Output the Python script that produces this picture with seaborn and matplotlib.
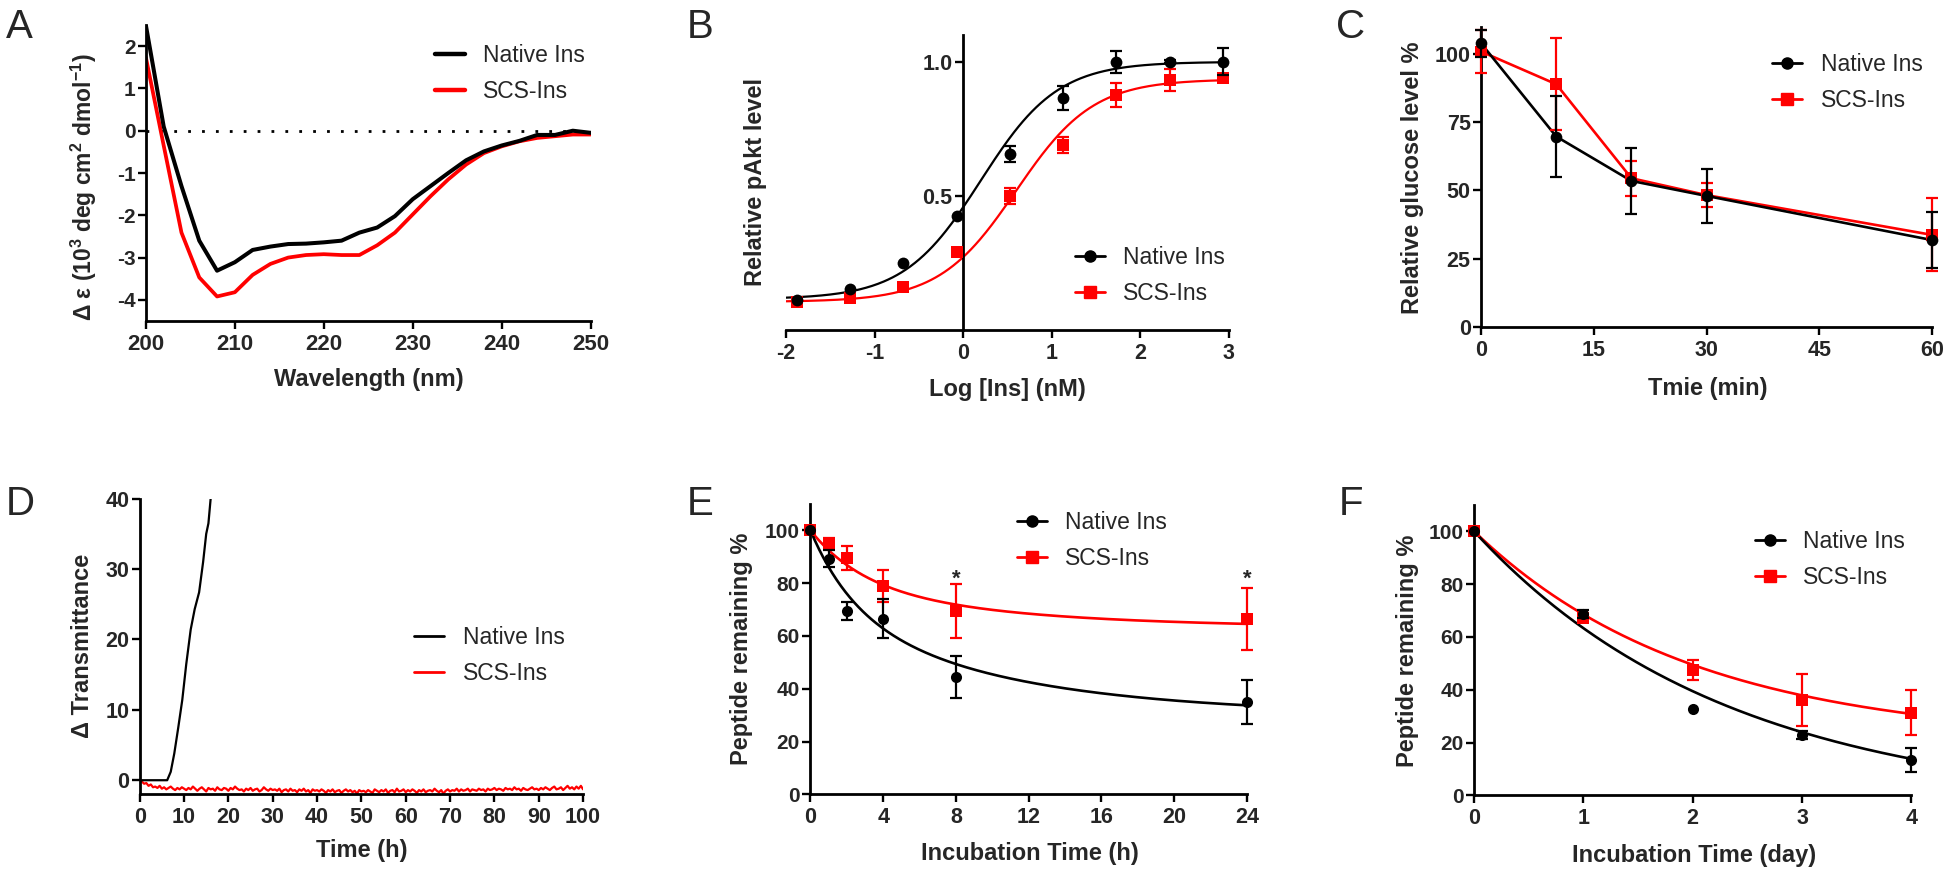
import matplotlib
matplotlib.use("Agg")
import numpy as np
import pandas as pd
import matplotlib.pyplot as plt
import seaborn as sns
from matplotlib.lines import Line2D

# ===================== DATA =====================
# Panel A: CD spectra
cd_wavelength = list(range(200, 251, 2))
cd_native = [2.49, 0.10, -1.31, -2.60, -3.31, -3.11, -2.82, -2.74, -2.68, -2.67, -2.64, -2.60, -2.41,
             -2.29, -2.02, -1.62, -1.31, -1.00, -0.70, -0.49, -0.35, -0.24, -0.10, -0.10, 0.00, -0.05]
cd_scs = [1.73, -0.35, -2.41, -3.47, -3.92, -3.82, -3.41, -3.15, -3.00, -2.94, -2.92, -2.94, -2.94,
          -2.71, -2.41, -1.98, -1.55, -1.15, -0.80, -0.53, -0.37, -0.25, -0.17, -0.13, -0.09, -0.09]

# Panel B: pAkt dose response
akt_logconc = [-1.88, -1.28, -0.68, -0.07, 0.53, 1.13, 1.73, 2.33, 2.93]
akt_native = [0.112, 0.153, 0.25, 0.425, 0.656, 0.866, 1.0, 1.0, 1.0]
akt_native_err = [0.0, 0.0, 0.0, 0.0, 0.03, 0.045, 0.04, 0.006, 0.05]
akt_scs = [0.104, 0.12, 0.16, 0.29, 0.50, 0.69, 0.877, 0.933, 0.94]
akt_scs_err = [0.0, 0.0, 0.0, 0.015, 0.03, 0.03, 0.045, 0.04, 0.012]
akt_fit_native = [0.115, 1.0, 0.2, 1.0]   # bottom, top, logEC50, hill
akt_fit_scs = [0.105, 0.935, 0.6, 1.0]

# Panel C: blood glucose
glu_time = [0, 10, 20, 30, 60]
glu_native = [104.0, 69.8, 53.5, 48.0, 31.8]
glu_native_err = [5.0, 14.7, 12.2, 9.8, 10.3]
glu_scs = [101.0, 89.0, 54.5, 48.3, 33.7]
glu_scs_err = [7.8, 16.8, 6.4, 4.5, 13.4]

# Panel D: transmittance
tr_native_time = [0, 3, 6.2, 7, 7.8, 8.7, 9.6, 10.5, 11.5, 12.4, 13.4, 14.3, 15, 15.5, 16]
tr_native = [0, 0, 0, 1.2, 3.8, 7.5, 11.4, 16.5, 21.4, 24.3, 26.7, 31, 35, 36.5, 40]
tr_scs = [0.0, -0.2, -0.5, -0.4, -0.8, -0.6, -1.0, -0.9, -1.1, -0.8, -1.2, -1.0, -1.3, -1.1, -0.9, -1.2, -1.4, -1.1, -1.3, -1.0, -1.2,
          -1.4, -1.1, -1.3, -0.9, -1.2, -1.5, -1.2, -1.0, -1.3, -1.6, -1.1, -1.3, -1.2, -1.5, -1.0, -1.3, -1.4, -1.1, -1.2, -1.5,
          -1.1, -1.3, -0.9, -1.2, -1.4, -1.3, -1.6, -1.2, -1.4, -1.1, -1.5, -1.3, -1.2, -1.6, -1.4, -1.0, -1.3, -1.5, -1.2, -1.4,
          -1.3, -1.5, -1.2, -1.7, -1.4, -1.3, -1.6, -1.2, -1.5, -1.4, -1.7, -1.3, -1.5, -1.2, -1.6, -1.4, -1.8, -1.3, -1.5, -1.4,
          -1.6, -1.3, -1.5, -1.8, -1.4, -1.6, -1.3, -1.7, -1.5, -1.4, -1.8, -1.5, -1.3, -1.6, -1.4, -1.7, -1.5, -1.9, -1.4, -1.6,
          -1.5, -1.7, -1.4, -1.6, -1.8, -1.3, -1.5, -1.7, -1.4, -1.6, -1.3, -1.8, -1.5, -1.4, -1.7, -1.2, -1.6, -1.5, -1.3, -1.7,
          -1.4, -1.6, -1.3, -1.5, -1.8, -1.4, -1.6, -1.3, -1.7, -1.5, -1.4, -1.6, -1.2, -1.5, -1.7, -1.4, -1.9, -1.5, -1.3, -1.6,
          -1.4, -1.5, -1.2, -1.6, -1.3, -1.5, -1.4, -1.2, -1.6, -1.3, -1.4, -1.5, -1.2, -1.4, -1.3, -1.6, -1.2, -1.4, -1.3, -1.1,
          -1.4, -1.2, -1.3, -1.5, -1.1, -1.3, -1.2, -1.4, -1.0, -1.3, -1.2, -1.5, -1.1, -1.3, -1.4, -1.2, -1.0, -1.3, -1.2, -1.4,
          -1.1, -1.3, -1.0, -1.2, -1.4, -1.1, -0.9, -1.3, -1.2, -1.0, -1.4, -1.1, -0.8, -1.2, -1.0, -1.3, -0.9, -1.2, -0.8, -1.3]

# Panel E: peptide remaining (h)
pe_time = [0, 1, 2, 4, 8, 24]
pe_native = [100, 89.3, 69.4, 66.5, 44.4, 35.0]
pe_native_err = [0.0, 3.2, 3.5, 7.3, 7.8, 8.3]
pe_scs = [100, 95.2, 89.5, 78.9, 69.4, 66.5]
pe_scs_err = [0.0, 2.0, 4.7, 5.9, 10.1, 11.7]
pe_fit_native = [30.0, 29.2, 0.42, 40.8, 0.10]   # plateau, A1, k1, A2, k2
pe_fit_scs = [63.0, 20.0, 0.35, 17.0, 0.10]
pe_star_time = [8, 24]

# Panel F: peptide remaining (day)
pf_time = [0, 1, 2, 3, 4]
pf_native = [100, 68.8, 32.8, 23.0, 13.5]
pf_native_err = [0.0, 1.5, 0.0, 1.5, 4.5]
pf_scs = [100, 67.2, 47.6, 36.0, 31.3]
pf_scs_err = [0.0, 1.0, 3.8, 9.8, 8.6]
pf_fit_native = [-5.0, 0.43]   # plateau, k
pf_fit_scs = [20.0, 0.5]

series_names = ["Native Ins", "SCS-Ins"]
series_colors = ["#000000", "#ff0000"]

# ===================== STYLE =====================
sns.set_theme(style="ticks")
plt.rcParams["font.family"] = ["Liberation Sans", "DejaVu Sans"]
plt.rcParams["font.weight"] = "bold"
plt.rcParams["axes.labelweight"] = "bold"
plt.rcParams["axes.unicode_minus"] = False
plt.rcParams["mathtext.fontset"] = "custom"
plt.rcParams["mathtext.rm"] = "Liberation Sans:bold"
plt.rcParams["mathtext.bf"] = "Liberation Sans:bold"
plt.rcParams["mathtext.it"] = "Liberation Sans:bold"

W, H = 1950, 874
fig = plt.figure(figsize=(W / 100, H / 100), dpi=100)
fig.patch.set_facecolor("white")


def add_axes(left, right, top, bottom):
    return fig.add_axes([left / W, 1 - bottom / H, (right - left) / W, (bottom - top) / H])


def style(ax, xsize=15.5, ysize=15.5):
    for s in ["top", "right"]:
        ax.spines[s].set_visible(False)
    for s in ["left", "bottom"]:
        ax.spines[s].set_linewidth(2.0)
        ax.spines[s].set_color("black")
    ax.tick_params(axis="both", direction="out", length=5.5, width=1.7, color="black")
    ax.tick_params(axis="x", labelsize=xsize, pad=4)
    ax.tick_params(axis="y", labelsize=ysize, pad=2)
    ax.set_facecolor("white")


def set_labels(ax, xl, yl, xc, yc, size=17):
    ax.set_xlabel(xl, fontsize=size)
    ax.set_ylabel(yl, fontsize=size)
    ax.xaxis.label.set_va("center")
    ax.yaxis.label.set_va("center")
    ax.xaxis.set_label_coords(*xc)
    ax.yaxis.set_label_coords(*yc)


def legend(ax, handles, x, y0, y1, fs=16.5):
    lg = ax.legend(handles=handles, labels=series_names, loc="center left",
                   bbox_to_anchor=(x / W, 1 - (y0 + y1) / 2 / H), bbox_transform=fig.transFigure,
                   frameon=False, borderpad=0, borderaxespad=0, handlelength=1.3,
                   handletextpad=0.8, labelspacing=0.55,
                   prop={"size": fs, "weight": "normal", "family": "Liberation Sans"})
    return lg


def letter(txt, x, y):
    fig.text(x / W, 1 - y / H, txt, fontsize=29, fontweight="normal", ha="left", va="baseline")


def errpoints(ax, x, y, e, color, marker, ms=8, zorder=3):
    xs = [xi for xi, ei in zip(x, e) if ei > 0]
    ys = [yi for yi, ei in zip(y, e) if ei > 0]
    es = [ei for ei in e if ei > 0]
    ax.errorbar(xs, ys, yerr=es, fmt="none", ecolor=color, elinewidth=1.6, capsize=4.2,
                capthick=1.6, zorder=zorder, clip_on=False)
    sns.scatterplot(x=x, y=y, ax=ax, color=color, marker=marker, s=ms ** 2,
                    edgecolor=color, linewidth=0, zorder=zorder + 0.5, clip_on=False, legend=False)


# ===================== PANEL A =====================
axA = add_axes(145.9, 590.6, 25, 321)
dfA = pd.DataFrame({"wl": cd_wavelength * 2, "de": cd_native + cd_scs,
                    "s": [series_names[0]] * len(cd_native) + [series_names[1]] * len(cd_scs)})
sns.lineplot(data=dfA[dfA.s == series_names[1]], x="wl", y="de", ax=axA, color=series_colors[1], lw=2.7, legend=False)
sns.lineplot(data=dfA[dfA.s == series_names[0]], x="wl", y="de", ax=axA, color=series_colors[0], lw=2.9, legend=False)
axA.axhline(0, color="black", lw=2, ls=(0, (1, 4)), zorder=1)
axA.set_xlim(200, 250)
axA.set_ylim(-4.5, 2.5)
axA.set_xticks([200, 210, 220, 230, 240, 250])
axA.set_yticks([-4, -3, -2, -1, 0, 1, 2])
style(axA, xsize=16, ysize=15)
set_labels(axA, "Wavelength (nm)", "Δ ε (10$^{3}$ deg cm$^{2}$ dmol$^{-1}$)", (0.501, -0.197), (-0.14, 0.451))
axA.yaxis.label.set_fontsize(16.5)
legend(axA, [Line2D([0], [0], color=c, lw=3.2) for c in series_colors], 435, 53.3, 94.3)
letter("A", 6, 38)

# ===================== PANEL B =====================
axB = add_axes(785.9, 1228.9, 35, 330)
xfit = np.linspace(-2, 3, 300)
for p, c in [(akt_fit_scs, series_colors[1]), (akt_fit_native, series_colors[0])]:
    yfit = p[0] + (p[1] - p[0]) / (1 + 10 ** ((p[2] - xfit) * p[3]))
    sns.lineplot(x=xfit, y=yfit, ax=axB, color=c, lw=1.6, legend=False)
errpoints(axB, akt_logconc, akt_scs, akt_scs_err, series_colors[1], "s", ms=8)
errpoints(axB, akt_logconc, akt_native, akt_native_err, series_colors[0], "o", ms=8.5, zorder=4)
axB.set_xlim(-2, 3)
axB.set_ylim(0, 1.1)
axB.set_xticks([-2, -1, 0, 1, 2, 3])
axB.set_yticks([0.5, 1.0])
axB.set_yticklabels(["0.5", "1.0"])
style(axB)
axB.spines["left"].set_position(("data", 0))
set_labels(axB, "Log [Ins] (nM)", "Relative pAkt level", (0.4996, -0.203), (-0.068, 0.502))
legend(axB, [Line2D([0], [0], color=c, lw=2, marker=m, markersize=8) for c, m in zip(series_colors, ["o", "s"])],
       1074.8, 256, 295)
letter("B", 686.5, 38)

# ===================== PANEL C =====================
axC = add_axes(1481.1, 1932.0, 27, 326.7)
sns.lineplot(x=glu_time, y=glu_scs, ax=axC, color=series_colors[1], lw=1.9, legend=False)
sns.lineplot(x=glu_time, y=glu_native, ax=axC, color=series_colors[0], lw=1.9, legend=False)
errpoints(axC, glu_time, glu_scs, glu_scs_err, series_colors[1], "s", ms=8.4)
errpoints(axC, glu_time, glu_native, glu_native_err, series_colors[0], "o", ms=8.4, zorder=4)
axC.set_xlim(0, 60)
axC.set_ylim(0, 110)
axC.set_xticks([0, 15, 30, 45, 60])
axC.set_yticks([0, 25, 50, 75, 100])
style(axC)
set_labels(axC, "Tmie (min)", "Relative glucose level %", (0.502, -0.2055), (-0.152, 0.498))
legend(axC, [Line2D([0], [0], color=c, lw=2, marker=m, markersize=8) for c, m in zip(series_colors, ["o", "s"])],
       1772.4, 62.3, 102.3)
letter("C", 1336.5, 38)

# ===================== PANEL D =====================
axD = add_axes(139.7, 583.1, 498.7, 794.3)
tr_time = np.arange(0, 100.01, 0.5)
sns.lineplot(x=tr_time, y=tr_scs, ax=axD, color=series_colors[1], lw=1.6, legend=False)
sns.lineplot(x=tr_native_time, y=tr_native, ax=axD, color=series_colors[0], lw=1.6, legend=False)
axD.set_xlim(0, 100)
axD.set_ylim(-2, 40)
axD.set_xticks(list(range(0, 101, 10)))
axD.set_yticks([0, 10, 20, 30, 40])
style(axD)
set_labels(axD, "Time (h)", "Δ Transmittance", (0.5, -0.189), (-0.128, 0.501))
legend(axD, [Line2D([0], [0], color=c, lw=2) for c in series_colors], 414.4, 636, 675.3)
letter("D", 6, 515)

# ===================== PANEL E =====================
axE = add_axes(810.4, 1246.8, 503.9, 794.3)
tE = np.linspace(0, 24, 300)
for p, c in [(pe_fit_scs, series_colors[1]), (pe_fit_native, series_colors[0])]:
    yE = p[0] + p[1] * np.exp(-p[2] * tE) + p[3] * np.exp(-p[4] * tE)
    sns.lineplot(x=tE, y=yE, ax=axE, color=c, lw=1.9, legend=False)
errpoints(axE, pe_time, pe_scs, pe_scs_err, series_colors[1], "s", ms=8.3)
errpoints(axE, pe_time, pe_native, pe_native_err, series_colors[0], "o", ms=8, zorder=4)
for t in pe_star_time:
    axE.text(t, 79.5, "*", ha="center", va="baseline", fontsize=16, fontweight="bold")
axE.set_xlim(0, 24)
axE.set_ylim(0, 110)
axE.set_xticks([0, 4, 8, 12, 16, 20, 24])
axE.set_yticks([0, 20, 40, 60, 80, 100])
style(axE, ysize=15)
set_labels(axE, "Incubation Time (h)", "Peptide remaining %", (0.503, -0.2045), (-0.157, 0.501))
legend(axE, [Line2D([0], [0], color=c, lw=2, marker=m, markersize=8) for c, m in zip(series_colors, ["o", "s"])],
       1016.8, 520.3, 560.3)
letter("E", 687, 515)

# ===================== PANEL F =====================
axF = add_axes(1474.1, 1911.3, 504.9, 795.3)
tF = np.linspace(0, 4, 300)
for p, c in [(pf_fit_scs, series_colors[1]), (pf_fit_native, series_colors[0])]:
    yF = p[0] + (100 - p[0]) * np.exp(-p[1] * tF)
    sns.lineplot(x=tF, y=yF, ax=axF, color=c, lw=1.9, legend=False)
errpoints(axF, pf_time, pf_scs, pf_scs_err, series_colors[1], "s", ms=8.3)
errpoints(axF, pf_time, pf_native, pf_native_err, series_colors[0], "o", ms=8, zorder=4)
axF.set_xlim(0, 4)
axF.set_ylim(0, 110)
axF.set_xticks([0, 1, 2, 3, 4])
axF.set_yticks([0, 20, 40, 60, 80, 100])
style(axF, ysize=15)
set_labels(axF, "Incubation Time (day)", "Peptide remaining %", (0.502, -0.2066), (-0.152, 0.499))
legend(axF, [Line2D([0], [0], color=c, lw=2, marker=m, markersize=8) for c, m in zip(series_colors, ["o", "s"])],
       1755, 539.7, 579.7)
letter("F", 1339, 515)

fig.savefig("out.png", dpi=100, facecolor="white")
